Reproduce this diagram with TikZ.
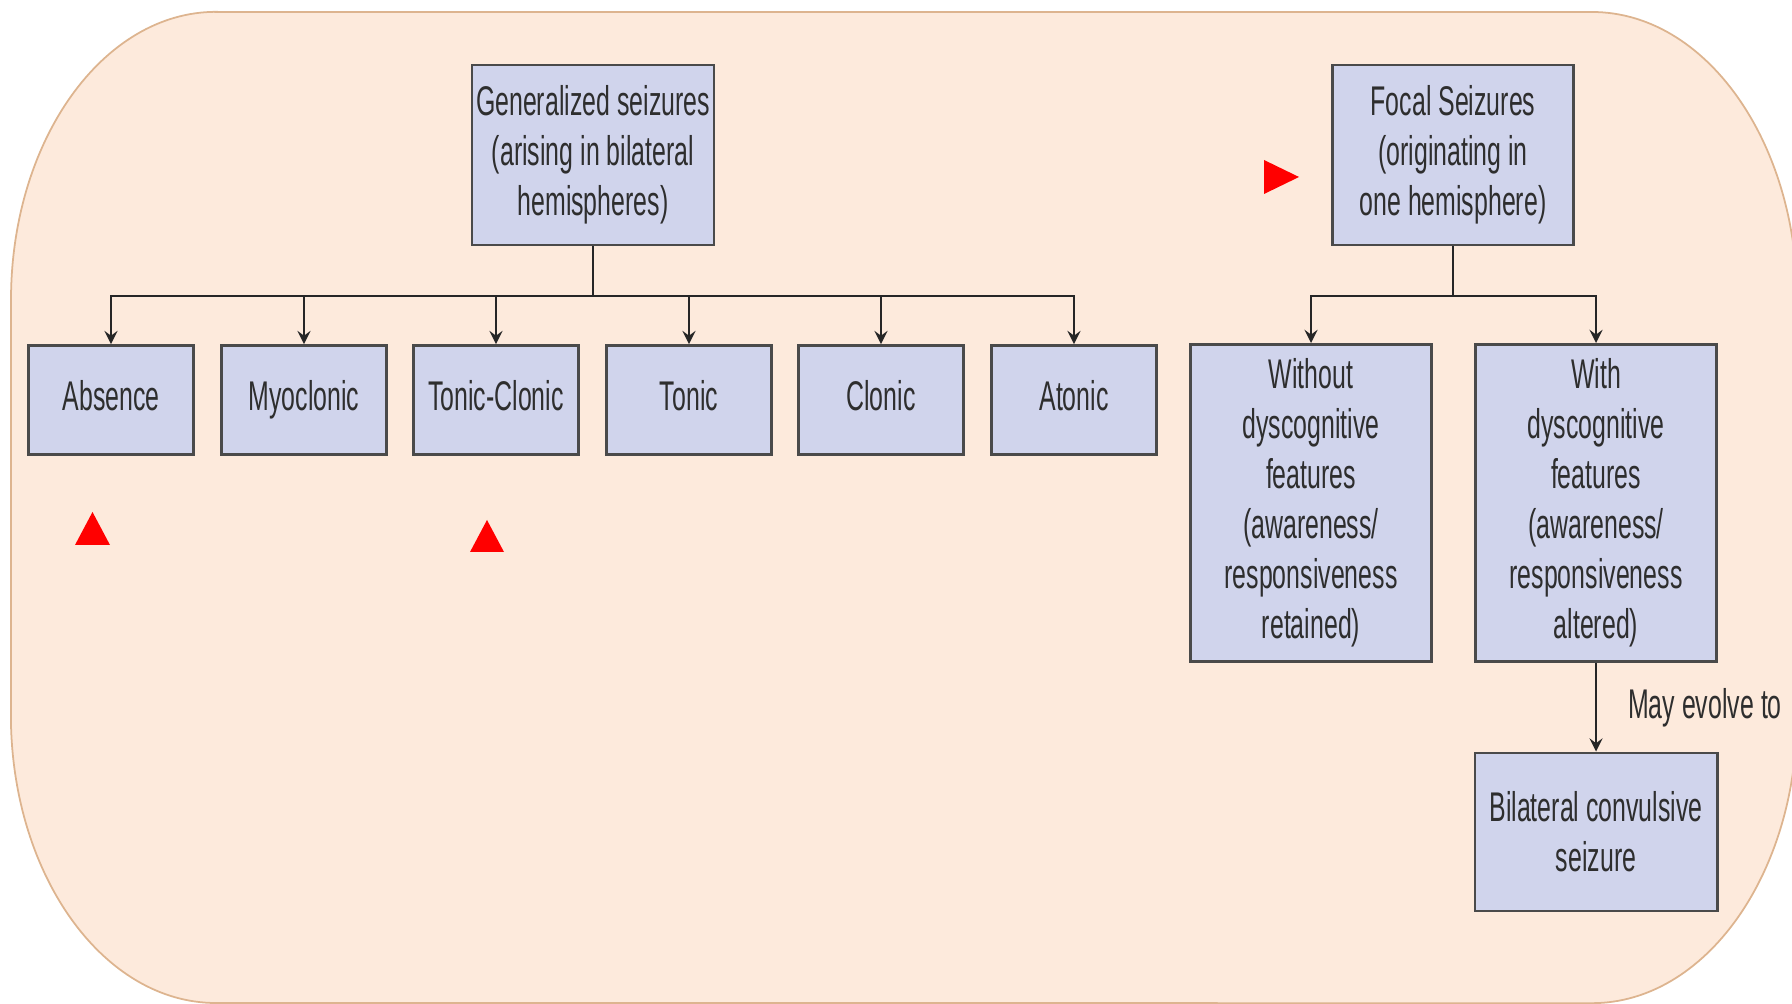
\documentclass[tikz,border=0pt]{standalone}
\usepackage{fontspec}
\setmainfont[FakeStretch=0.6]{Liberation Sans}
\usepackage{tikz}
\usetikzlibrary{arrows}

\definecolor{peach}{HTML}{FDEADC}
\definecolor{peachline}{HTML}{DDB48F}
\definecolor{lavender}{HTML}{D0D4EC}
\definecolor{boxline}{HTML}{4A4A4A}
\definecolor{inkgray}{HTML}{2E2E2E}

\begin{document}
\begin{tikzpicture}[x=0.01cm, y=-0.01cm,
    box/.style={draw=boxline, line width=0.8pt, fill=lavender, text=inkgray,
      align=center, inner sep=0pt, font=\fontsize{11.8}{14.2}\selectfont},
    small/.style={box, minimum width=1.65cm, minimum height=1.09cm,
      text height=8.6pt, text depth=2.6pt},
    link/.style={draw=black!85, line width=0.65pt}]
          \path[use as bounding box] (0,0) rectangle (1792,1004);
          % background
          \filldraw[fill=peach, draw=peachline, line width=0.5pt]
            (216,12) -- (1592,12)
            arc[start angle=90, end angle=0, x radius=2.05cm, y radius=2.88cm]
            -- (1797,715)
            arc[start angle=0, end angle=-90, x radius=2.05cm, y radius=2.88cm]
            -- (216,1003)
            arc[start angle=-90, end angle=-180, x radius=2.05cm, y radius=2.88cm]
            -- (11,300)
            arc[start angle=180, end angle=90, x radius=2.05cm, y radius=2.88cm]
            -- cycle;
          % generalized
          \node[box, minimum width=2.42cm, minimum height=1.80cm] (gen) at (593,155)
            {Generalized seizures\\(arising in bilateral\\hemispheres)};
          \node[small] (absence) at (111,400) {Absence};
          \node[small] (myoclonic) at (304,400) {Myoclonic};
          \node[small] (tonclon) at (496,400) {Tonic-Clonic};
          \node[small] (tonic) at (689,400) {Tonic};
          \node[small] (clonic) at (881,400) {Clonic};
          \node[small] (atonic) at (1074,400) {Atonic};
          % focal
          \node[box, minimum width=2.41cm, minimum height=1.80cm] (focal) at (1453,155)
            {Focal Seizures\\(originating in\\one hemisphere)};
          \node[box, minimum width=2.41cm, minimum height=3.17cm] (without) at (1311,503)
            {Without\\dyscognitive\\features\\(awareness/\\responsiveness\\retained)};
          \node[box, minimum width=2.41cm, minimum height=3.17cm] (with) at (1596,503)
            {With\\dyscognitive\\features\\(awareness/\\responsiveness\\altered)};
          \node[box, minimum width=2.42cm, minimum height=1.58cm] (bilat) at (1596,832)
            {Bilateral convulsive\\seizure};
          % tree lines
          \coordinate (gbar) at (593,296);
          \draw[link] (gen.south) -- (gbar);
          \foreach \n in {absence,myoclonic,tonclon,tonic,clonic,atonic}
            \draw[link,-stealth] (gbar) -| (\n.north);
          \coordinate (fbar) at (1453,296);
          \draw[link] (focal.south) -- (fbar);
          \foreach \n in {without,with}
            \draw[link,-stealth] (fbar) -| (\n.north);
          % evolve
          \draw[link,-stealth] (with.south) -- (bilat.north)
            node[midway, right=0.31cm, inner sep=0pt, text=inkgray,
              font=\fontsize{11.8}{14.2}\selectfont] {May evolve to};
          % red markers
          \fill[red] (75,545) -- (110,545) -- (92.5,512) -- cycle;
          \fill[red] (470,552) -- (504,552) -- (487,520) -- cycle;
          \fill[red] (1264,160) -- (1299,177) -- (1264,194) -- cycle;
        \end{tikzpicture}
\end{document}
